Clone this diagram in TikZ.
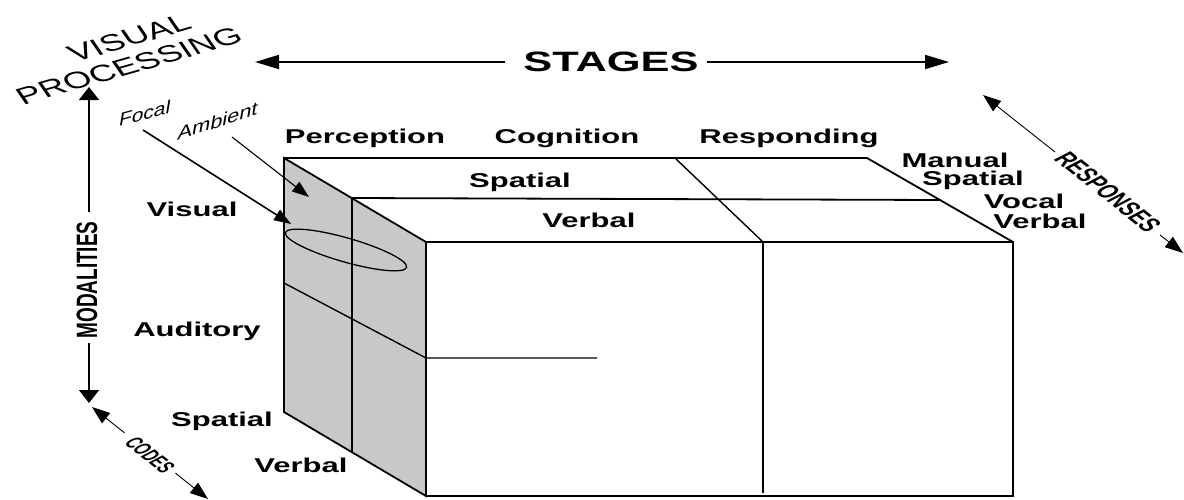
\documentclass[tikz,border=0pt]{standalone}
\usepackage{graphicx}
\usepackage{fontspec}
\setmainfont{Liberation Sans}
\usetikzlibrary{arrows.meta}
\newcommand{\wx}[1]{\scalebox{1.55}[1]{#1}}
\definecolor{facegray}{RGB}{200,200,200}
\begin{document}
\begin{tikzpicture}[x=1pt,y=-1pt,
  edge/.style={line width=1.8pt, line join=miter, line cap=rect},
  thinedge/.style={line width=1.4pt},
  lab/.style={font=\fontsize{20}{24}\selectfont\bfseries, inner sep=0pt, anchor=base},
  rlab/.style={inner sep=0pt, transform shape},
  stagesarrow/.style={line width=1.8pt, -{Triangle[length=24pt,width=14pt]}},
  modarrow/.style={line width=1.4pt, -{Triangle[length=13pt,width=20pt]}},
  diagarrow/.style={line width=0.9pt, -{Triangle[length=18pt,width=13pt]}},
  focalarrow/.style={line width=1.6pt, -{Triangle[length=17pt,width=12pt]}},
  ambarrow/.style={line width=1.1pt, -{Triangle[length=17pt,width=12pt]}}
]
\useasboundingbox (0,0) rectangle (1184,499);
% ---- cube corners
\coordinate (TL) at (284,158);
\coordinate (GTR) at (426,242);
\coordinate (FBL) at (426,496);
\coordinate (GBL) at (284,412);
\coordinate (BTR) at (867,158);
\coordinate (FTR) at (1013,242);
\coordinate (FBR) at (1013,496);
\coordinate (M1) at (352,198);
\coordinate (M2) at (352,451);
\coordinate (V1) at (940,200);
\coordinate (D1) at (675,158);
\coordinate (D2) at (763,242);
\coordinate (D3) at (763,492);
\coordinate (G1) at (284,283);
\coordinate (G2) at (426,358);
\coordinate (H2) at (597,358);
% ---- gray side face
\fill[facegray] (TL) -- (GTR) -- (FBL) -- (GBL) -- cycle;
\draw[edge] (TL) -- (GTR) -- (FBL) -- (GBL) -- cycle;
\draw[edge] (M1) -- (M2);
\draw[thinedge] (G1) -- (G2) -- (H2);
% ---- top face
\draw[edge] (TL) -- (BTR) -- (FTR);
\draw[edge] (M1) -- (V1);
\draw[thinedge] (D1) -- (D2);
% ---- front face
\draw[edge] (GTR) rectangle (FBR);
\draw[edge] (D2) -- (D3);
% ---- ellipse
\draw[line width=1.3pt] (346,250) ellipse [x radius=63pt, y radius=12pt, rotate=-16];
% ---- stage, row, column labels
\node[lab] (perc) at (365,143) {\wx{Perception}};
\node[lab] (cogn) at (567,143) {\wx{Cognition}};
\node[lab] (resp) at (789,143) {\wx{Responding}};
\node[lab] (tsp) at (520,187) {\wx{Spatial}};
\node[lab] (tvb) at (589,227) {\wx{Verbal}};
\node[lab] (man) at (955,167) {\wx{Manual}};
\node[lab] (rsp) at (973,185) {\wx{Spatial}};
\node[lab] (voc) at (1024,208) {\wx{Vocal}};
\node[lab] (rvb) at (1040,228) {\wx{Verbal}};
\node[lab] (vis) at (192,216) {\wx{Visual}};
\node[lab] (aud) at (197,336) {\wx{Auditory}};
\node[lab] (lsp) at (222,426) {\wx{Spatial}};
\node[lab] (lvb) at (301,472) {\wx{Verbal}};
% ---- STAGES axis
\node[font=\fontsize{28}{32}\selectfont\bfseries, inner sep=0pt, anchor=base] (stg) at (611,71) {\wx{STAGES}};
\coordinate (stL) at (505,62);
\coordinate (stLtip) at (255,62);
\coordinate (stR) at (707,62);
\coordinate (stRtip) at (949,62);
\draw[stagesarrow] (stL) -- (stLtip);
\draw[stagesarrow] (stR) -- (stRtip);
% ---- VISUAL PROCESSING
\begin{scope}[shift={(129,38)}, xscale=1.55, rotate=24]
  \node[rlab, font=\fontsize{23.5}{28}\selectfont] (vvis) at (0,0) {VISUAL};
\end{scope}
\begin{scope}[shift={(129,66)}, xscale=1.55, rotate=24]
  \node[rlab, font=\fontsize{23.5}{28}\selectfont] (vproc) at (0,0) {PROCESSING};
\end{scope}
% ---- MODALITIES axis
\begin{scope}[shift={(87,280)}, xscale=1.55, rotate=90]
  \node[rlab, font=\fontsize{19}{22}\selectfont\bfseries] (mod) at (0,0) {MODALITIES};
\end{scope}
\coordinate (mA) at (89,212);
\coordinate (mAtip) at (89,87);
\coordinate (mB) at (89,343);
\coordinate (mBtip) at (89,403);
\draw[modarrow] (mA) -- (mAtip);
\draw[modarrow] (mB) -- (mBtip);
% ---- CODES axis
\begin{scope}[shift={(150,455)}, xscale=1.55, rotate=-51, xscale=0.66]
  \node[rlab, font=\fontsize{17}{19}\selectfont\bfseries] (codes) at (0,0) {CODES};
\end{scope}
\coordinate (cAtip) at (92,407);
\coordinate (cA) at (124.5,432.8);
\coordinate (cB) at (175.5,473.2);
\coordinate (cBtip) at (208,499);
\draw[diagarrow] (cA) -- (cAtip);
\draw[diagarrow] (cB) -- (cBtip);
% ---- RESPONSES axis
\begin{scope}[shift={(1108,192)}, xscale=1.55, rotate=-51, xscale=0.77]
  \node[rlab, font=\fontsize{20}{22}\selectfont\bfseries] (resps) at (0,0) {RESPONSES};
\end{scope}
\coordinate (rAtip) at (983,95);
\coordinate (rA) at (1055,152);
\coordinate (rB) at (1160,235);
\coordinate (rBtip) at (1183,253);
\draw[diagarrow] (rA) -- (rAtip);
\draw[diagarrow] (rB) -- (rBtip);
% ---- Focal / Ambient
\begin{scope}[shift={(145,113)}, yslant=0.27, xscale=1.55, xscale=0.75, xslant=0.15]
  \node[rlab, font=\fontsize{18}{20}\selectfont] (focal) at (0,0) {Focal};
\end{scope}
\begin{scope}[shift={(218,121)}, yslant=0.32, xscale=1.55, xscale=0.78, xslant=0.15]
  \node[rlab, font=\fontsize{18}{20}\selectfont] (amb) at (0,0) {Ambient};
\end{scope}
\coordinate (fS) at (143,130);
\coordinate (fE) at (291,224);
\coordinate (aS) at (232,137);
\coordinate (aE) at (309,197);
\draw[focalarrow] (fS) -- (fE);
\draw[ambarrow] (aS) -- (aE);
\end{tikzpicture}
\end{document}
